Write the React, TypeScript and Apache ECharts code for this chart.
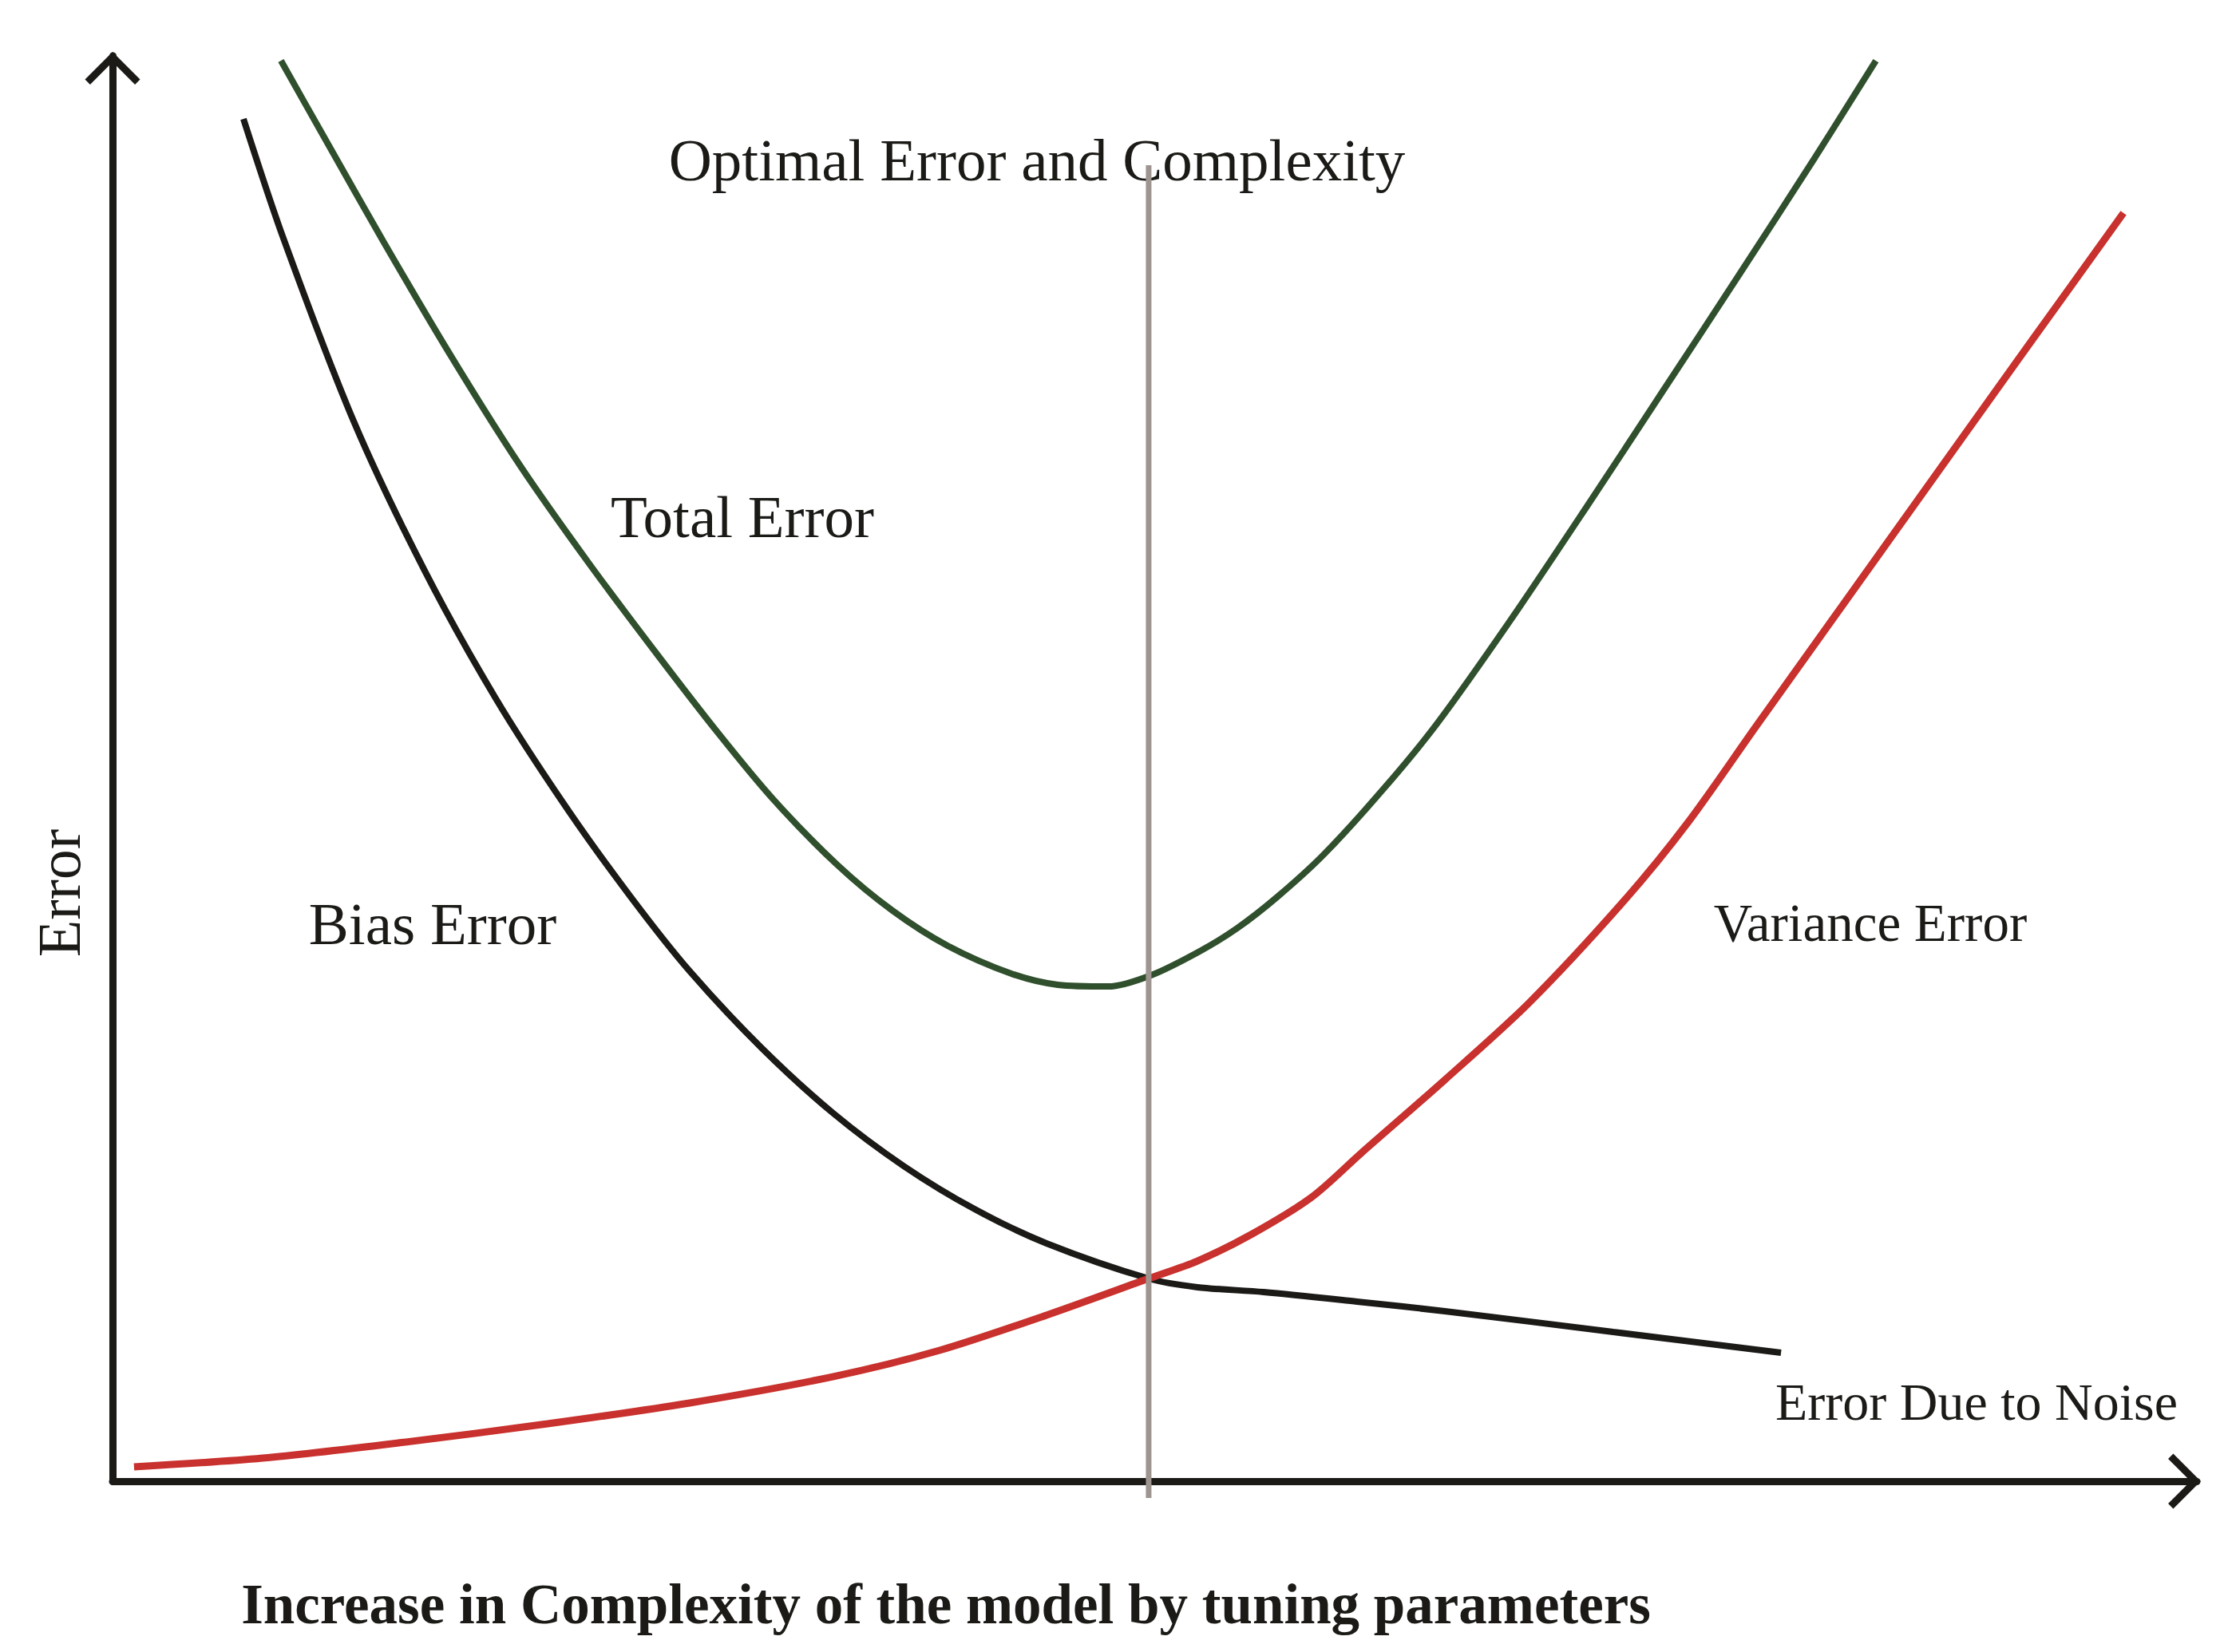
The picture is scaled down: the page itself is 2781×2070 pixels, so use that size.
import React, { useEffect, useRef } from "react";
import * as echarts from "echarts";

const WIDTH = 2781;
const HEIGHT = 2070;

// x: model complexity (0-100), y: error (0-100)
const totalError: [number, number][] = [
  [8.08, 99.66], [10.11, 94.4], [12.98, 87.01], [16.28, 78.84], [19.57, 71.22],
  [22.86, 64.39], [26.16, 57.95], [29.07, 52.46], [31.71, 47.82], [34.78, 43.23],
  [37.42, 40.03], [40.06, 37.57], [43.12, 35.61], [45.35, 34.83], [47.76, 34.71],
  [49.83, 35.5], [52.16, 37.18], [53.96, 38.8], [55.88, 40.99], [58.1, 43.95],
  [60.93, 48.49], [63.54, 53.14], [67.02, 60.3], [70.7, 68.31], [74.38, 76.48],
  [78.02, 84.6], [81.69, 92.89], [84.6, 99.66],
];

const biasError: [number, number][] = [
  [6.28, 95.58], [8.2, 87.18], [11.57, 74.36], [14.97, 63.89], [18.38, 54.93],
  [21.75, 47.31], [24.86, 40.99], [27.69, 35.78], [31.14, 30.4], [34.58, 25.81],
  [37.95, 22.12], [41.36, 19.09], [44.81, 16.69], [49.71, 14.22], [52.05, 13.61],
  [55.23, 13.27], [59.71, 12.6], [63.92, 11.93], [72.0, 10.47], [80.05, 9.01],
];

const varianceError: [number, number][] = [
  [1.03, 1.01], [7.2, 1.62], [14.02, 2.74], [20.87, 4.03], [27.69, 5.49],
  [34.55, 7.33], [39.68, 9.18], [44.81, 11.65], [49.71, 14.22], [52.05, 15.45],
  [54.62, 17.3], [57.53, 19.93], [59.9, 23.01], [63.92, 28.16], [67.98, 33.59],
  [72.54, 40.76], [75.6, 46.25], [78.86, 52.97], [82.69, 60.81], [86.52, 68.65],
  [91.5, 78.84], [96.48, 88.97],
];

const optimalLine: [number, number][] = [
  [49.71, 92.33],
  [49.71, -1.18],
];

const TXT_OPTIMAL = "Optimal Error and Complexity";
const TXT_TOTAL = "Total Error";
const TXT_BIAS = "Bias Error";
const TXT_VARIANCE = "Variance Error";
const TXT_NOISE = "Error Due to Noise";
const TXT_YNAME = "Error";
const TXT_XNAME = "Increase in Complexity of the model by tuning parameters";

const SERIF = '"Liberation Serif", "Times New Roman", serif';
const INK = "#1b1a17";
const CHEVRON = "path://M34.5,0 L69,34.5 L62.6,40.9 L34.5,12.8 L6.4,40.9 L0,34.5 Z";

function txt(text: string, x: number, y: number, size: number, bold = false, rotation = 0) {
  return {
    type: "text",
    x,
    y,
    rotation,
    silent: true,
    style: {
      text,
      font: `${bold ? "bold " : ""}${size}px ${SERIF}`,
      fill: INK,
      textAlign: "center",
      textVerticalAlign: "middle",
      align: "center",
      verticalAlign: "middle",
    },
  };
}

function curve(name: string, data: [number, number][], color: string, width: number, z: number) {
  return {
    name,
    type: "line",
    data,
    showSymbol: false,
    symbol: "none",
    smooth: 0.3,
    clip: false,
    lineStyle: { color, width },
    z,
  };
}

export default function App() {
  const ref = useRef<HTMLDivElement>(null);

  useEffect(() => {
    document.body.style.margin = "0";
    if (!ref.current) return;
    const chart = echarts.init(ref.current, null, { renderer: "svg" });
    const axisCommon = {
      type: "value",
      min: 0,
      max: 100,
      axisLabel: { show: false },
      axisTick: { show: false },
      splitLine: { show: false },
      axisLine: {
        show: true,
        onZero: false,
        symbol: ["none", CHEVRON],
        symbolSize: [69, 41],
        symbolOffset: [0, -15.5],
        lineStyle: { color: INK, width: 9 },
      },
    };
    chart.setOption({
      animation: false,
      backgroundColor: "#ffffff",
      grid: { left: 141, right: 29, top: 70, bottom: 214, outerBoundsMode: "none" },
      xAxis: { ...axisCommon },
      yAxis: { ...axisCommon },
      series: [
        curve(TXT_TOTAL, totalError, "#30502d", 8, 2),
        curve(TXT_BIAS, biasError, INK, 8, 3),
        curve(TXT_VARIANCE, varianceError, "#c8312d", 9, 4),
        {
          name: "Optimal",
          type: "line",
          data: optimalLine,
          showSymbol: false,
          symbol: "none",
          clip: false,
          lineStyle: { color: "#9e9591", width: 7 },
          z: 5,
        },
      ],
      graphic: [
        txt(TXT_OPTIMAL, 1299, 200, 75),
        txt(TXT_TOTAL, 930, 647, 75),
        txt(TXT_BIAS, 542, 1157, 75),
        txt(TXT_VARIANCE, 2343, 1156, 67),
        txt(TXT_NOISE, 2476, 1756, 66),
        txt(TXT_YNAME, 74, 1119, 76, false, Math.PI / 2),
        txt(TXT_XNAME, 1185, 2010, 71, true),
      ],
    });
    return () => chart.dispose();
  }, []);

  return (
    <div
      ref={ref}
      style={{ position: "absolute", left: 0, top: 0, width: WIDTH, height: HEIGHT, background: "#fff" }}
    />
  );
}
